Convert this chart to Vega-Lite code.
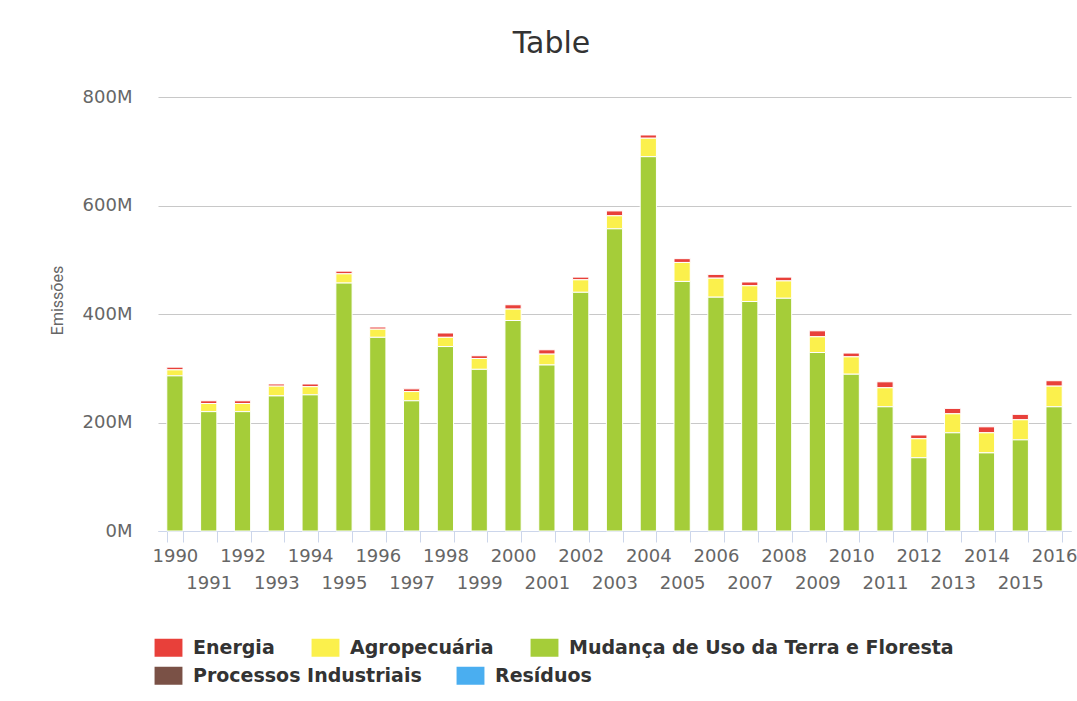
{
  "$schema": "https://vega.github.io/schema/vega-lite/v6.json",
  "autosize": "none",
  "width": 913,
  "height": 434,
  "padding": {"left": 158, "top": 97, "right": 6, "bottom": 170},
  "background": "white",
  "title": {"text": "Table", "font": "DejaVu Sans", "fontSize": 30, "fontWeight": "normal", "color": "#333333", "anchor": "middle", "frame": "group", "dx": -63, "offset": 29},
  "data": {"values": [
    {"ano": 1990, "Energia": 5, "Agropecuária": 11, "Mudança de Uso da Terra e Floresta": 286},
    {"ano": 1991, "Energia": 5, "Agropecuária": 15, "Mudança de Uso da Terra e Floresta": 220},
    {"ano": 1992, "Energia": 5, "Agropecuária": 15, "Mudança de Uso da Terra e Floresta": 220},
    {"ano": 1993, "Energia": 4, "Agropecuária": 18, "Mudança de Uso da Terra e Floresta": 249},
    {"ano": 1994, "Energia": 5, "Agropecuária": 15, "Mudança de Uso da Terra e Floresta": 251},
    {"ano": 1995, "Energia": 5, "Agropecuária": 17, "Mudança de Uso da Terra e Floresta": 457},
    {"ano": 1996, "Energia": 4, "Agropecuária": 15, "Mudança de Uso da Terra e Floresta": 357},
    {"ano": 1997, "Energia": 5, "Agropecuária": 17, "Mudança de Uso da Terra e Floresta": 240},
    {"ano": 1998, "Energia": 8, "Agropecuária": 17, "Mudança de Uso da Terra e Floresta": 340},
    {"ano": 1999, "Energia": 5, "Agropecuária": 20, "Mudança de Uso da Terra e Floresta": 298},
    {"ano": 2000, "Energia": 8, "Agropecuária": 21, "Mudança de Uso da Terra e Floresta": 388},
    {"ano": 2001, "Energia": 8, "Agropecuária": 20, "Mudança de Uso da Terra e Floresta": 306},
    {"ano": 2002, "Energia": 5, "Agropecuária": 23, "Mudança de Uso da Terra e Floresta": 440},
    {"ano": 2003, "Energia": 9, "Agropecuária": 24, "Mudança de Uso da Terra e Floresta": 557},
    {"ano": 2004, "Energia": 6, "Agropecuária": 34, "Mudança de Uso da Terra e Floresta": 690},
    {"ano": 2005, "Energia": 7, "Agropecuária": 35, "Mudança de Uso da Terra e Floresta": 460},
    {"ano": 2006, "Energia": 7, "Agropecuária": 35, "Mudança de Uso da Terra e Floresta": 431},
    {"ano": 2007, "Energia": 7, "Agropecuária": 29, "Mudança de Uso da Terra e Floresta": 423},
    {"ano": 2008, "Energia": 7, "Agropecuária": 32, "Mudança de Uso da Terra e Floresta": 429},
    {"ano": 2009, "Energia": 11, "Agropecuária": 29, "Mudança de Uso da Terra e Floresta": 329},
    {"ano": 2010, "Energia": 7, "Agropecuária": 32, "Mudança de Uso da Terra e Floresta": 289},
    {"ano": 2011, "Energia": 11, "Agropecuária": 35, "Mudança de Uso da Terra e Floresta": 229},
    {"ano": 2012, "Energia": 7, "Agropecuária": 35, "Mudança de Uso da Terra e Floresta": 135},
    {"ano": 2013, "Energia": 10, "Agropecuária": 35, "Mudança de Uso da Terra e Floresta": 181},
    {"ano": 2014, "Energia": 11, "Agropecuária": 37, "Mudança de Uso da Terra e Floresta": 144},
    {"ano": 2015, "Energia": 10, "Agropecuária": 37, "Mudança de Uso da Terra e Floresta": 168},
    {"ano": 2016, "Energia": 10, "Agropecuária": 38, "Mudança de Uso da Terra e Floresta": 229}
  ]},
  "transform": [
    {"fold": ["Energia", "Agropecuária", "Mudança de Uso da Terra e Floresta"], "as": ["setor", "valor"]},
    {"calculate": "indexof(['Mudança de Uso da Terra e Floresta', 'Agropecuária', 'Energia'], datum.setor)", "as": "ordem"}
  ],
  "encoding": {
    "x": {
      "field": "ano", "type": "ordinal",
      "scale": {"paddingInner": 0.52, "paddingOuter": 0.26},
      "axis": {
        "title": null, "labelAngle": 0, "labelFont": "DejaVu Sans", "labelFontSize": 18, "labelColor": "#666666",
        "labelPadding": 5, "labelBaseline": "top", "labelLineHeight": 27, "tickSize": 11, "tickColor": "#ccd6eb", "domainColor": "#ccd6eb",
        "tickBand": "extent", "labelOverlap": false, "grid": false,
        "labelExpr": "datum.value % 2 == 1 ? ['', datum.label] : datum.label"
      }
    },
    "y": {
      "field": "valor", "type": "quantitative", "stack": "zero",
      "scale": {"domain": [0, 800]},
      "axis": {
        "values": [0, 200, 400, 600, 800], "labelExpr": "datum.value + 'M'",
        "title": "Emissões", "titleFont": "Roboto", "titleFontSize": 16, "titleFontWeight": "normal",
        "titleColor": "#666666", "titlePadding": 17, "titleY": 203,
        "labelFont": "DejaVu Sans", "labelFontSize": 18, "labelColor": "#666666", "labelPadding": 26,
        "ticks": false, "domain": false, "gridColor": "#c8c8c8", "gridWidth": 1.2
      }
    }
  },
  "layer": [
    {
      "mark": {"type": "bar", "stroke": "white", "strokeWidth": 1},
      "encoding": {
        "color": {
          "field": "setor", "type": "nominal",
          "scale": {
            "domain": ["Energia", "Agropecuária", "Mudança de Uso da Terra e Floresta"],
            "range": ["#e8403a", "#fbf04c", "#a5cd39"]
          },
          "legend": {
            "title": null, "orient": "none", "legendX": 1, "legendY": 541, "direction": "horizontal",
            "symbolType": "M-1.55,-1H1.55V1H-1.55Z", "symbolSize": 324, "symbolStrokeWidth": 0, "symbolOpacity": 1,
            "labelFont": "DejaVu Sans", "labelFontSize": 19, "labelFontWeight": "bold", "labelColor": "#333333",
            "labelOffset": 15, "columnPadding": 36, "labelLimit": 600
          }
        },
        "order": {"field": "ordem", "sort": "ascending"}
      }
    },
    {
      "transform": [{"filter": "false"}],
      "mark": {"type": "bar"},
      "encoding": {
        "fill": {
          "field": "setor", "type": "nominal",
          "scale": {
            "domain": ["Processos Industriais", "Resíduos"],
            "range": ["#7a5146", "#4aaef0"]
          },
          "legend": {
            "title": null, "orient": "none", "legendX": 1, "legendY": 569, "direction": "horizontal",
            "symbolType": "M-1.55,-1H1.55V1H-1.55Z", "symbolSize": 324, "symbolStrokeWidth": 0, "symbolOpacity": 1,
            "labelFont": "DejaVu Sans", "labelFontSize": 19, "labelFontWeight": "bold", "labelColor": "#333333",
            "labelOffset": 15, "columnPadding": 34, "labelLimit": 600
          }
        }
      }
    }
  ],
  "config": {"view": {"stroke": null}}
}
